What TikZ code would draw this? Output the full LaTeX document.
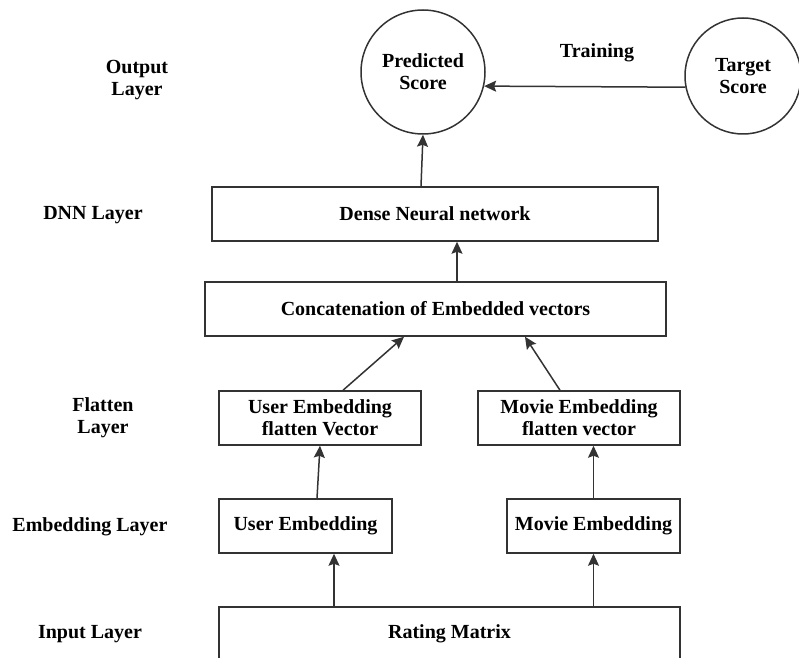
\documentclass[tikz,border=0pt]{standalone}
\usepackage{fontspec}
\setmainfont{Liberation Serif}
\usetikzlibrary{arrows.meta}
\usetikzlibrary{shapes.geometric}
\newcommand\boxheight{27pt}
\tikzstyle{layerbox} = [rectangle, draw=black!80, line width=0.75pt, minimum height=\boxheight, inner sep=0pt, align=center]
\tikzstyle{scorenode} = [circle, draw=black!80, line width=0.75pt, inner sep=0pt, align=center]
\tikzstyle{layername} = [align=center]
\tikzstyle{arrow} = [draw=black!80, line width=0.75pt, -{Stealth[length=6pt, width=5.5pt, inset=1pt]}]

\begin{document}
\begin{tikzpicture}[x=0.5pt, y=-0.5pt, every node/.append style={font=\fontsize{10}{11}\selectfont\bfseries}]
	    \useasboundingbox (0,0) rectangle (799,658);

	    \node[scorenode, minimum size=62pt] (pred) at (423,72) {Predicted\\Score};
	    \node[scorenode, minimum size=58pt] (target) at (743,76) {Target\\Score};
	    \node[layername] (training) at (597,53) {Training};

	    \node[layerbox, minimum width=223pt] (dnn) at (435,214) {Dense Neural network};
	    \node[layerbox, minimum width=230.5pt] (concat) at (435.5,309) {Concatenation of Embedded vectors};
	    \node[layerbox, minimum width=101pt] (uflat) at (320,418) {User Embedding\\flatten Vector};
	    \node[layerbox, minimum width=101pt] (mflat) at (579,418) {Movie Embedding\\flatten vector};
	    \node[layerbox, minimum width=86.5pt] (uemb) at (305.5,526) {User Embedding};
	    \node[layerbox, minimum width=86.5pt] (memb) at (593.5,526) {Movie Embedding};
	    \node[layerbox, minimum width=230.5pt] (rating) at (449.5,634) {Rating Matrix};

	    \node[layername] (outlayer) at (137,80) {Output\\Layer};
	    \node[layername] (dnnlayer) at (93,215) {DNN Layer};
	    \node[layername] (flatlayer) at (103,418) {Flatten\\Layer};
	    \node[layername] (emblayer) at (90,527) {Embedding Layer};
	    \node[layername] (inlayer) at (90,634) {Input Layer};

	    \draw[arrow] (target.191) -- (pred.347);
	    \draw[arrow] ([xshift=-7pt]dnn.north) -- (pred.south);
	    \draw[arrow] ([xshift=10.75pt]concat.north) -- ([xshift=10.75pt]concat.north |- dnn.south);
	    \draw[arrow] ([xshift=11.5pt]uflat.north) -- ([xshift=-15.75pt]concat.south);
	    \draw[arrow] ([xshift=-9.5pt]mflat.north) -- ([xshift=44.75pt]concat.south);
	    \draw[arrow] ([xshift=5.75pt]uemb.north) -- (uflat.south);
	    \draw[arrow] (memb.north) -- (memb.north |- mflat.south);
	    \draw[arrow] ([xshift=14.25pt]uemb.south |- rating.north) -- ([xshift=14.25pt]uemb.south);
	    \draw[arrow] (memb.south |- rating.north) -- (memb.south);
	\end{tikzpicture}
\end{document}
